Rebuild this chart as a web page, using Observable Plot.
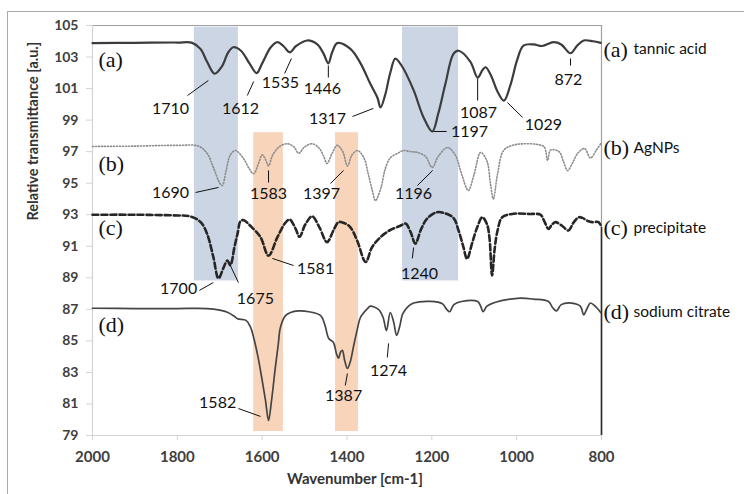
<!DOCTYPE html>
<html>
<head>
<meta charset="utf-8">
<script src="https://cdn.jsdelivr.net/npm/d3@7"></script>
<script src="https://cdn.jsdelivr.net/npm/@observablehq/plot@0.6"></script>
<style>
  html, body { margin: 0; padding: 0; background: #fff; overflow: hidden; }
  #wrap { position: relative; width: 744px; height: 494px; }
  #outer { position: absolute; left: 7px; top: 11px; width: 800px; height: 600px;
           border: 1.5px solid #a9a9a9; pointer-events: none; }
</style>
</head>
<body>
<div id="wrap"><div id="chart"></div><div id="outer"></div></div>
<script>
// ---- data (wavenumber cm-1, relative transmittance) ----
const seriesA = [[2000,103.88],[1900,103.9],[1800,103.92],[1765,103.9],[1745,103.5],[1730,102.7],[1712,101.94],[1695,102.4],[1680,103.3],[1668,103.62],[1650,103.4],[1630,102.6],[1613,101.98],[1600,102.6],[1580,103.6],[1564,103.94],[1550,103.7],[1535,103.3],[1520,103.7],[1494,104.05],[1470,103.8],[1455,103.2],[1444,102.6],[1435,103.3],[1423,103.88],[1392,103.52],[1368,102.6],[1345,101.3],[1328,100.4],[1321,99.8],[1310,100.6],[1298,102.0],[1286,102.9],[1270,102.4],[1243,100.9],[1220,99.2],[1199,98.28],[1185,99.4],[1168,101.3],[1149,103.2],[1137,103.4],[1109,102.7],[1092,101.7],[1080,102.2],[1073,102.35],[1060,101.8],[1045,100.8],[1030,100.24],[1015,101.2],[999,102.8],[984,103.73],[960,103.8],[940,103.7],[913,103.94],[895,103.8],[873,103.24],[858,103.7],[842,104.05],[820,104.0],[802,103.9]];
const seriesB = [[2000,97.33],[1900,97.35],[1800,97.4],[1750,97.35],[1730,96.9],[1715,96.0],[1700,95.0],[1694,94.85],[1685,95.8],[1675,96.8],[1663,97.07],[1645,96.6],[1630,95.9],[1620,95.6],[1608,96.3],[1600,96.8],[1592,96.5],[1585,96.1],[1575,96.8],[1560,97.3],[1541,97.5],[1525,97.3],[1514,96.9],[1500,97.3],[1482,97.5],[1465,97.2],[1455,96.7],[1447,96.25],[1435,96.9],[1423,97.4],[1410,97.0],[1399,96.1],[1388,96.8],[1375,97.07],[1360,96.6],[1350,95.6],[1340,94.5],[1333,93.9],[1320,94.7],[1310,95.9],[1298,96.6],[1280,96.9],[1267,97.07],[1250,97.0],[1234,96.95],[1215,96.7],[1199,96.0],[1185,96.7],[1163,97.26],[1145,96.8],[1130,95.6],[1114,94.54],[1100,95.6],[1085,96.95],[1070,96.4],[1062,95.0],[1055,94.0],[1045,95.6],[1031,97.07],[1010,97.4],[980,97.5],[950,97.45],[935,97.3],[927,96.44],[920,97.1],[900,97.0],[890,96.4],[880,95.8],[868,96.3],[856,96.9],[840,97.2],[826,96.6],[812,97.1],[802,97.5]];
const seriesC = [[2000,93.0],[1900,93.0],[1800,92.95],[1770,92.9],[1745,92.53],[1730,91.8],[1715,90.3],[1703,88.96],[1691,89.65],[1682,90.1],[1675,89.8],[1665,91.0],[1658,91.8],[1651,92.6],[1643,92.65],[1628,92.3],[1604,91.58],[1585,90.4],[1564,91.58],[1545,92.5],[1535,92.7],[1521,92.1],[1512,91.6],[1498,92.4],[1482,92.9],[1465,92.2],[1447,91.26],[1432,92.0],[1420,92.53],[1405,92.45],[1392,92.2],[1376,91.36],[1356,90.0],[1341,90.94],[1321,91.58],[1300,92.0],[1274,92.3],[1262,92.44],[1250,91.9],[1239,91.17],[1225,92.1],[1211,92.76],[1188,93.16],[1170,93.1],[1149,92.8],[1137,92.0],[1126,91.0],[1117,90.2],[1105,91.2],[1093,92.2],[1081,92.84],[1070,92.4],[1064,91.5],[1058,89.15],[1052,90.8],[1045,92.0],[1034,92.84],[1007,93.06],[970,93.05],[944,93.0],[935,92.6],[925,92.1],[916,92.4],[908,92.53],[893,92.3],[878,92.0],[866,92.5],[854,92.84],[845,92.8],[832,92.6],[822,92.53],[807,92.53],[800,92.2]];
const seriesD = [[2000,87.07],[1900,87.05],[1800,87.05],[1730,87.05],[1700,86.95],[1682,86.82],[1665,86.55],[1658,86.4],[1638,86.3],[1628,85.9],[1620,85.2],[1610,84.0],[1600,82.5],[1592,81.2],[1585,79.95],[1578,81.2],[1569,83.3],[1562,84.8],[1557,85.85],[1545,86.6],[1533,86.8],[1515,86.9],[1490,86.85],[1462,86.6],[1452,86.0],[1443,85.15],[1432,84.9],[1425,84.2],[1420,83.9],[1415,84.3],[1411,84.4],[1405,83.7],[1399,83.25],[1392,83.7],[1385,84.6],[1376,85.7],[1368,86.5],[1350,87.1],[1345,87.2],[1326,87.0],[1315,86.5],[1307,85.65],[1298,86.8],[1290,86.2],[1283,85.35],[1275,86.0],[1269,86.7],[1255,87.2],[1243,87.4],[1203,87.5],[1175,87.35],[1165,87.0],[1158,86.85],[1148,87.3],[1130,87.5],[1092,87.5],[1085,87.2],[1079,86.85],[1070,87.2],[1050,87.45],[998,87.7],[960,87.65],[925,87.5],[915,87.1],[906,86.9],[895,87.3],[870,87.4],[850,87.2],[842,86.65],[835,87.0],[826,87.4],[815,87.2],[802,86.8]];
// vertical drop of (c) at the right edge
const edgeDrop = [{x: 800, y1: 79, y2: 92.2}];

// shaded bands
const blueBands = [{x1: 1760, x2: 1656, y1: 88.8, y2: 104.9}, {x1: 1269, x2: 1137, y1: 88.8, y2: 104.9}];
const orangeBands = [{x1: 1620, x2: 1550, y1: 79.25, y2: 98.2}, {x1: 1427, x2: 1373, y1: 79.25, y2: 98.2}];

// peak annotations: label, text position, leader line from (lx1,ly1) to (lx2,ly2)
const annotations = [
  {t:"1710", x:1816, y:99.74, lx1:1776, ly1:100.56, lx2:1727, ly2:101.51},
  {t:"1612", x:1651, y:99.74, lx1:1635, ly1:100.56, lx2:1620, ly2:101.45},
  {t:"1535", x:1557, y:101.39, lx1:1547, ly1:101.96, lx2:1531, ly2:102.91},
  {t:"1446", x:1458, y:101.0, lx1:1444, ly1:101.7, lx2:1444, ly2:102.46},
  {t:"1317", x:1446, y:99.1, lx1:1387, ly1:99.23, lx2:1338, ly2:99.74},
  {t:"1197", x:1111, y:98.28, lx1:1196, ly1:98.28, lx2:1165, ly2:98.28},
  {t:"1087", x:1090, y:99.48, lx1:1092, ly1:100.24, lx2:1092, ly2:101.64},
  {t:"1029", x:937, y:98.72, lx1:1022, ly1:100.12, lx2:986, ly2:99.17},
  {t:"872", x:878, y:101.58, lx1:873, ly1:102.46, lx2:873, ly2:102.91},
  {t:"1690", x:1816, y:94.41, lx1:1757, ly1:94.41, lx2:1703, ly2:94.73},
  {t:"1583", x:1585, y:94.35, lx1:1585, ly1:95.04, lx2:1585, ly2:95.81},
  {t:"1397", x:1460, y:94.35, lx1:1439, ly1:94.98, lx2:1408, ly2:95.81},
  {t:"1196", x:1243, y:94.35, lx1:1234, ly1:94.85, lx2:1198, ly2:95.81},
  {t:"1700", x:1797, y:88.32, lx1:1748, ly1:88.2, lx2:1715, ly2:88.7},
  {t:"1675", x:1616, y:87.69, lx1:1656, ly1:88.7, lx2:1675, ly2:89.78},
  {t:"1581", x:1474, y:89.59, lx1:1526, ly1:89.78, lx2:1576, ly2:90.23},
  {t:"1240", x:1229, y:89.27, lx1:1246, ly1:90.23, lx2:1243, ly2:90.92},
  {t:"1582", x:1705, y:81.09, lx1:1656, ly1:80.71, lx2:1604, ly2:80.21},
  {t:"1387", x:1408, y:81.54, lx1:1404, ly1:82.17, lx2:1399, ly2:82.93},
  {t:"1274", x:1302, y:83.12, lx1:1305, ly1:83.95, lx2:1302, ly2:84.84}
];

// series tags inside the plot and names at the right
const innerTags = [{t:"(a)", x:1986, y:102.84}, {t:"(b)", x:1986, y:96.25}, {t:"(c)", x:1986, y:92.19}, {t:"(d)", x:1986, y:85.98}];
const rightTags = [{t:"(a)", name:"tannic acid", y:103.48}, {t:"(b)", name:"AgNPs", y:97.26}, {t:"(c)", name:"precipitate", y:92.13}, {t:"(d)", name:"sodium citrate", y:86.86}];

const xTicks = [2000, 1800, 1600, 1400, 1200, 1000, 800];
const yTicks = [79, 81, 83, 85, 87, 89, 91, 93, 95, 97, 99, 101, 103, 105];
const xTitle = "Wavenumber [cm-1]";
const yTitle = "Relative transmittance [a.u.]";

const X = d => d[0], Y = d => d[1];
const sans = "Lato, 'Open Sans', sans-serif";
const serif = "'Liberation Serif', 'DejaVu Serif', serif";
const plain = d => String(d);

const chart = Plot.plot({
  width: 744,
  height: 494,
  marginLeft: 92,
  marginRight: 143,
  marginTop: 25,
  marginBottom: 59,
  style: {fontFamily: sans, background: "transparent", overflow: "visible"},
  x: {domain: [2000, 800]},
  y: {domain: [79, 105]},
  marks: [
    Plot.rect(blueBands, {x1: "x1", x2: "x2", y1: "y1", y2: "y2", fill: "#cbd5e4"}),
    Plot.rect(orangeBands, {x1: "x1", x2: "x2", y1: "y1", y2: "y2", fill: "#f8d4bb"}),
    // plot-area frame
    Plot.ruleY([105], {stroke: "#a0a0a0", strokeWidth: 1.2}),
    Plot.ruleX([800], {stroke: "#a0a0a0", strokeWidth: 1.2}),
    Plot.ruleX([2000], {stroke: "#d4d4d4", strokeWidth: 1.2}),
    Plot.ruleY([79], {stroke: "#d4d4d4", strokeWidth: 1.2}),
    Plot.axisY(yTicks, {tickSize: 6, tickPadding: 8, stroke: "#d4d4d4", fill: "#404040", fontSize: 14, fontWeight: "bold", label: null, tickFormat: plain}),
    Plot.axisX(xTicks, {tickSize: 5, tickPadding: 11, stroke: "#d4d4d4", fill: "#404040", fontSize: 15, fontWeight: "bold", label: null, tickFormat: plain}),
    Plot.ruleX(edgeDrop, {x: "x", y1: "y1", y2: "y2", stroke: "#2a2a2a", strokeWidth: 1.6}),
    Plot.line(seriesD, {x: X, y: Y, stroke: "#454545", strokeWidth: 1.7, curve: "catmull-rom"}),
    Plot.line(seriesC, {x: X, y: Y, stroke: "#262626", strokeWidth: 2.6, strokeDasharray: "6,3", curve: "catmull-rom"}),
    Plot.line(seriesB, {x: X, y: Y, stroke: "#8c8c8c", strokeWidth: 1.6, strokeDasharray: "1.1,1.9", curve: "catmull-rom"}),
    Plot.line(seriesA, {x: X, y: Y, stroke: "#3c3c3c", strokeWidth: 2.2, curve: "catmull-rom"}),
    Plot.link(annotations, {x1: "lx1", y1: "ly1", x2: "lx2", y2: "ly2", stroke: "#111", strokeWidth: 1}),
    Plot.text(annotations, {x: "x", y: "y", text: "t", fontSize: 16, fill: "#111", fontFamily: sans}),
    Plot.text(innerTags, {x: "x", y: "y", text: "t", textAnchor: "start", fontSize: 22, fill: "#111", fontFamily: serif}),
    Plot.text(rightTags, {x: () => 800, y: "y", text: "t", textAnchor: "start", dx: 2, fontSize: 22, fill: "#111", fontFamily: serif}),
    Plot.text(rightTags, {x: () => 800, y: "y", text: "name", textAnchor: "start", dx: 32, fontSize: 15.5, fill: "#111", fontFamily: sans}),
    Plot.text([yTitle], {frameAnchor: "left", dx: -59, dy: -10, rotate: -90, fontSize: 14.5, fontWeight: "bold", fill: "#333", fontFamily: sans}),
    Plot.text([xTitle], {frameAnchor: "bottom", dy: 48, dx: 8, fontSize: 15, fontWeight: "bold", fill: "#333", fontFamily: sans})
  ]
});
document.getElementById("chart").appendChild(chart);
</script>
</body>
</html>
